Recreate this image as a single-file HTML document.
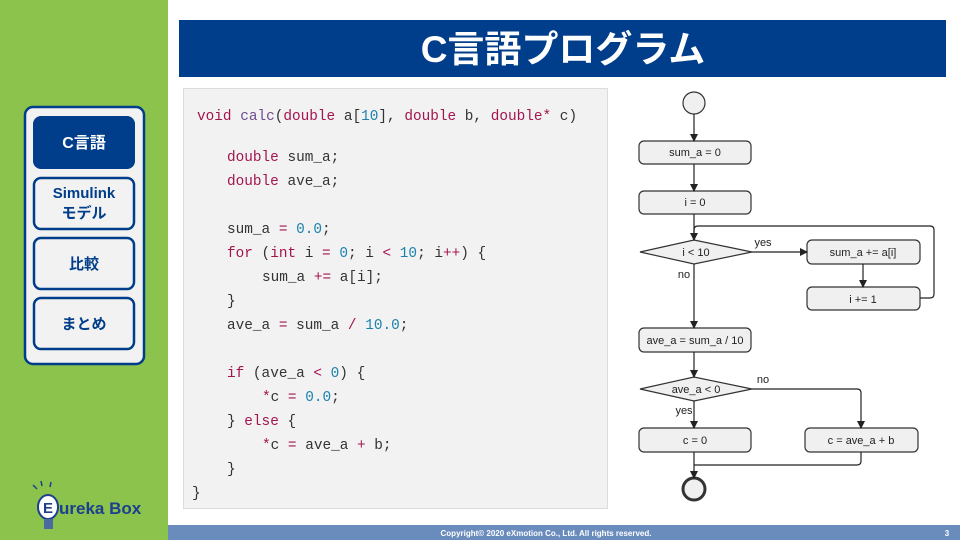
<!DOCTYPE html>
<html><head><meta charset="utf-8"><style>
body{margin:0;width:960px;height:540px;overflow:hidden;background:#fff;font-family:"Liberation Sans","Noto Sans CJK JP",sans-serif}
.k{fill:#a3154f}.n{fill:#1c82ad}.f{fill:#6e4b8e}
</style></head><body>
<svg width="960" height="540" xmlns="http://www.w3.org/2000/svg" font-family="Liberation Sans, Noto Sans CJK JP, sans-serif">
<rect x="0" y="0" width="168" height="540" fill="#8bc34c"/>
<rect x="168" y="525" width="792" height="15" fill="#6a8cbd"/>
<text x="546" y="536" font-size="8" fill="#fff" text-anchor="middle" font-weight="bold">Copyright© 2020 eXmotion Co., Ltd. All rights reserved.</text>
<text x="947" y="536" font-size="8" fill="#fff" text-anchor="middle" font-weight="bold">3</text>
<rect x="179" y="20" width="767" height="57" fill="#003d8a"/>
<text x="563" y="62" font-size="37" fill="#fff" text-anchor="middle" font-weight="bold">C言語プログラム</text>
<!-- sidebar -->
<rect x="25" y="107" width="119" height="257" rx="8" fill="#f2f2f2" stroke="#003d8a" stroke-width="2.5"/>
<rect x="33" y="116" width="102" height="53" rx="8" fill="#003d8a"/>
<text x="84" y="148" font-size="16" fill="#fff" text-anchor="middle" font-weight="bold">C言語</text>
<rect x="34" y="178" width="100" height="51" rx="7" fill="#f2f2f2" stroke="#003d8a" stroke-width="2.5"/>
<text x="84" y="198" font-size="15" fill="#003d8a" text-anchor="middle" font-weight="bold">Simulink</text>
<text x="84" y="218" font-size="15" fill="#003d8a" text-anchor="middle" font-weight="bold">モデル</text>
<rect x="34" y="238" width="100" height="51" rx="7" fill="#f2f2f2" stroke="#003d8a" stroke-width="2.5"/>
<text x="84" y="269" font-size="15" fill="#003d8a" text-anchor="middle" font-weight="bold">比較</text>
<rect x="34" y="298" width="100" height="51" rx="7" fill="#f2f2f2" stroke="#003d8a" stroke-width="2.5"/>
<text x="84" y="329" font-size="15" fill="#003d8a" text-anchor="middle" font-weight="bold">まとめ</text>
<!-- logo -->
<ellipse cx="48" cy="507" rx="10" ry="12" fill="#fff" stroke="#1d3f8f" stroke-width="2"/>
<rect x="44" y="519" width="9" height="10" fill="#4a6aa0"/>
<text x="48" y="513" font-size="15" fill="#1d3f8f" text-anchor="middle" font-weight="bold">E</text>
<text x="59" y="514" font-size="17" fill="#1d3f8f" font-weight="bold">ureka Box</text>
<path d="M33 485l4 4M41 481l1 5M51 482l-1 5" stroke="#1d3f8f" stroke-width="1.5"/>
<!-- code -->
<rect x="183.5" y="88.5" width="424" height="420" fill="#f2f2f2" stroke="#dcdcdc"/>
<g font-family="Liberation Mono, monospace" font-size="14.4" fill="#333">
<text x="197" y="120"><tspan class="k">void</tspan> <tspan class="f">calc</tspan>(<tspan class="k">double</tspan> a[<tspan class="n">10</tspan>], <tspan class="k">double</tspan> b, <tspan class="k">double</tspan><tspan class="k">*</tspan> c)</text>
<text x="227" y="161"><tspan class="k">double</tspan> sum_a;</text>
<text x="227" y="185"><tspan class="k">double</tspan> ave_a;</text>
<text x="227" y="233">sum_a <tspan class="k">=</tspan> <tspan class="n">0.0</tspan>;</text>
<text x="227" y="257"><tspan class="k">for</tspan> (<tspan class="k">int</tspan> i <tspan class="k">=</tspan> <tspan class="n">0</tspan>; i <tspan class="k">&lt;</tspan> <tspan class="n">10</tspan>; i<tspan class="k">++</tspan>) {</text>
<text x="262" y="281">sum_a <tspan class="k">+=</tspan> a[i];</text>
<text x="227" y="305">}</text>
<text x="227" y="329">ave_a <tspan class="k">=</tspan> sum_a <tspan class="k">/</tspan> <tspan class="n">10.0</tspan>;</text>
<text x="227" y="377"><tspan class="k">if</tspan> (ave_a <tspan class="k">&lt;</tspan> <tspan class="n">0</tspan>) {</text>
<text x="262" y="401"><tspan class="k">*</tspan>c <tspan class="k">=</tspan> <tspan class="n">0.0</tspan>;</text>
<text x="227" y="425">} <tspan class="k">else</tspan> {</text>
<text x="262" y="449"><tspan class="k">*</tspan>c <tspan class="k">=</tspan> ave_a <tspan class="k">+</tspan> b;</text>
<text x="227" y="473">}</text>
<text x="192" y="497">}</text>
</g>
<!-- flowchart -->
<defs><marker id="a" markerWidth="8" markerHeight="8" refX="7" refY="4" orient="auto" markerUnits="userSpaceOnUse"><path d="M0 0L8 4L0 8z" fill="#222"/></marker></defs>
<g stroke="#333" stroke-width="1.2" fill="#f0f0f0">
<circle cx="694" cy="103" r="11"/>
<rect x="639" y="141" width="112" height="23" rx="5"/>
<rect x="639" y="191" width="112" height="23" rx="5"/>
<path d="M640 252L694 240L752 252L694 264z"/>
<rect x="807" y="240" width="113" height="24" rx="5"/>
<rect x="807" y="287" width="113" height="23" rx="5"/>
<rect x="639" y="328" width="112" height="24" rx="5"/>
<path d="M640 389L694 377L752 389L694 401z"/>
<rect x="639" y="428" width="112" height="24" rx="5"/>
<rect x="805" y="428" width="113" height="24" rx="5"/>
<circle cx="694" cy="489" r="11" stroke-width="3"/>
</g>
<g stroke="#222" stroke-width="1.2" fill="none">
<path d="M694 114V141" marker-end="url(#a)"/>
<path d="M694 164V191" marker-end="url(#a)"/>
<path d="M694 214V240" marker-end="url(#a)"/>
<path d="M752 252H807" marker-end="url(#a)"/>
<path d="M863 264V287" marker-end="url(#a)"/>
<path d="M920 298H930Q934 298 934 294V230Q934 226 930 226H698Q694 226 694 230V238"/>
<path d="M694 264V328" marker-end="url(#a)"/>
<path d="M694 352V377" marker-end="url(#a)"/>
<path d="M694 401V428" marker-end="url(#a)"/>
<path d="M752 389H857Q861 389 861 393V428" marker-end="url(#a)"/>
<path d="M694 452V478" marker-end="url(#a)"/>
<path d="M861 452V461Q861 465 857 465H694"/>
</g>
<g font-size="11" fill="#222" text-anchor="middle">
<text x="695" y="156">sum_a = 0</text>
<text x="695" y="206">i = 0</text>
<text x="696" y="256">i &lt; 10</text>
<text x="863" y="256">sum_a += a[i]</text>
<text x="863" y="303">i += 1</text>
<text x="695" y="344">ave_a = sum_a / 10</text>
<text x="696" y="393">ave_a &lt; 0</text>
<text x="695" y="444">c = 0</text>
<text x="861" y="444">c = ave_a + b</text>
<text x="763" y="246">yes</text>
<text x="684" y="278">no</text>
<text x="763" y="383">no</text>
<text x="684" y="414">yes</text>
</g>
</svg>
</body></html>
